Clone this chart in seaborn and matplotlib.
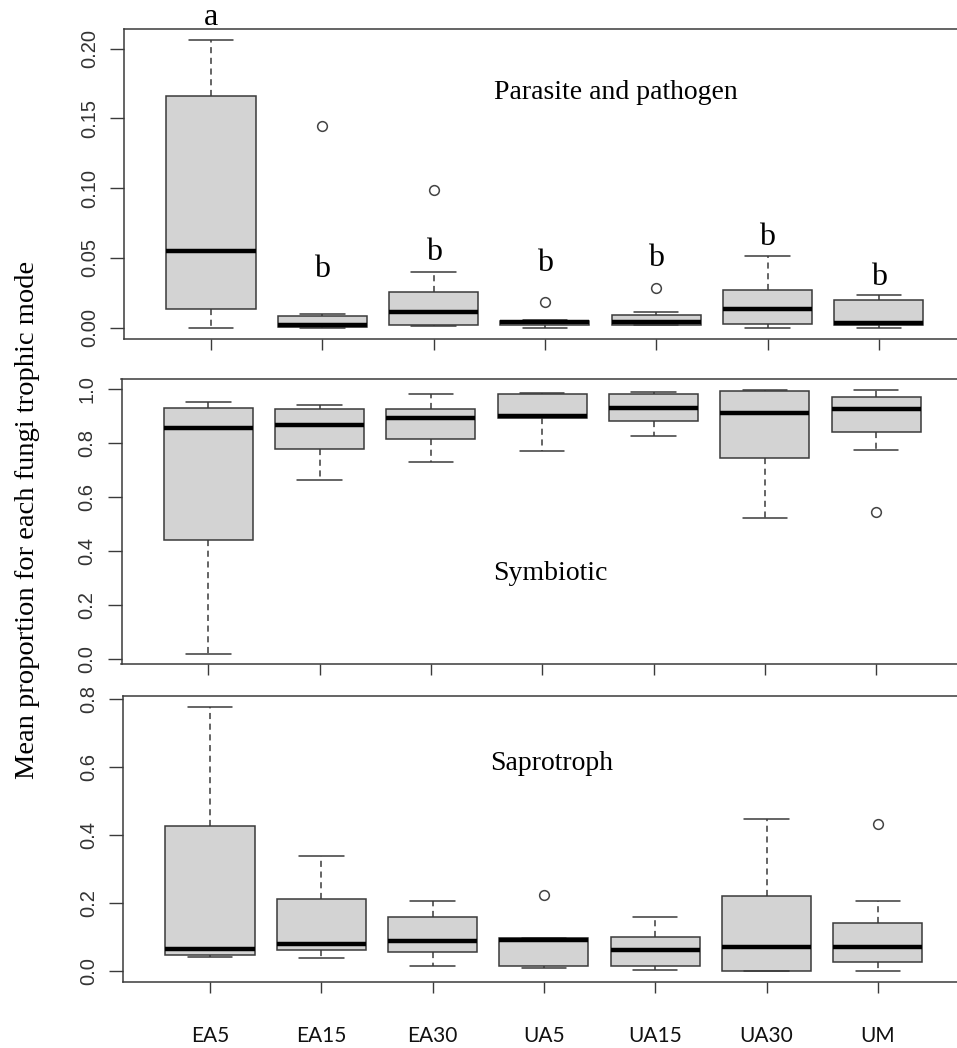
import numpy as np
import pandas as pd
import matplotlib
matplotlib.use("Agg")
import matplotlib.pyplot as plt
import seaborn as sns

# ---------------- data ----------------
categories = ["EA5", "EA15", "EA30", "UA5", "UA15", "UA30", "UM"]

# Parasite and pathogen: whisker low, Q1, median, Q3, whisker high
para_lo  = [0.000, 0.0000, 0.0010, 0.0000, 0.0015, 0.0000, 0.0000]
para_q1  = [0.0132, 0.0005, 0.0020, 0.0020, 0.0020, 0.0024, 0.0015]
para_med = [0.0548, 0.0020, 0.0110, 0.0036, 0.0043, 0.0132, 0.0031]
para_q3  = [0.1658, 0.0084, 0.0258, 0.0048, 0.0091, 0.0268, 0.0199]
para_hi  = [0.2060, 0.0096, 0.0395, 0.0052, 0.0108, 0.0515, 0.0232]
para_out_group = ["EA15", "EA30", "UA5", "UA15"]
para_out_value = [0.1445, 0.0986, 0.0182, 0.0285]
para_letters = ["a", "b", "b", "b", "b", "b", "b"]
para_letter_y = [0.2172, 0.0366, 0.0486, 0.0402, 0.0438, 0.0593, 0.0306]

# Symbiotic
sym_lo  = [0.0185, 0.663, 0.731, 0.771, 0.828, 0.523, 0.774]
sym_q1  = [0.441, 0.779, 0.816, 0.895, 0.884, 0.744, 0.841]
sym_med = [0.857, 0.867, 0.893, 0.900, 0.932, 0.911, 0.927]
sym_q3  = [0.932, 0.927, 0.928, 0.983, 0.981, 0.995, 0.973]
sym_hi  = [0.953, 0.942, 0.983, 0.987, 0.991, 0.997, 0.999]
sym_out_group = ["UM"]
sym_out_value = [0.544]

# Saprotroph
sap_lo  = [0.043, 0.039, 0.0165, 0.0106, 0.0049, 0.000, 0.002]
sap_q1  = [0.048, 0.0626, 0.0567, 0.0156, 0.0166, 0.002, 0.0264]
sap_med = [0.0655, 0.080, 0.090, 0.093, 0.0636, 0.0724, 0.0724]
sap_q3  = [0.428, 0.212, 0.160, 0.0988, 0.100, 0.222, 0.141]
sap_hi  = [0.777, 0.338, 0.2065, 0.0988, 0.160, 0.447, 0.2065]
sap_out_group = ["UA5", "UM"]
sap_out_value = [0.224, 0.433]

panel_titles = ["Parasite and pathogen", "Symbiotic", "Saprotroph"]
ylabel = "Mean proportion for each fungi trophic mode"


def five_point_frame(lo, q1, med, q3, hi):
    rows = []
    for g, a, b, c, d, e in zip(categories, lo, q1, med, q3, hi):
        for v in (a, b, c, d, e):
            rows.append({"group": g, "value": v})
    return pd.DataFrame(rows)


panels = [
    dict(df=five_point_frame(para_lo, para_q1, para_med, para_q3, para_hi),
         out=pd.DataFrame({"group": para_out_group, "value": para_out_value}),
         ylim=(-0.00824, 0.2142), yticks=[0, 0.05, 0.10, 0.15, 0.20], fmt="{:.2f}",
         rect_px=(124.2, 29, 339), title_xy=(3.64, 0.1639)),
    dict(df=five_point_frame(sym_lo, sym_q1, sym_med, sym_q3, sym_hi),
         out=pd.DataFrame({"group": sym_out_group, "value": sym_out_value}),
         ylim=(-0.0185, 1.037), yticks=[0, 0.2, 0.4, 0.6, 0.8, 1.0], fmt="{:.1f}",
         rect_px=(121.5, 379.3, 664.3), title_xy=(3.07, 0.294)),
    dict(df=five_point_frame(sap_lo, sap_q1, sap_med, sap_q3, sap_hi),
         out=pd.DataFrame({"group": sap_out_group, "value": sap_out_value}),
         ylim=(-0.0306, 0.809), yticks=[0, 0.2, 0.4, 0.6, 0.8], fmt="{:.1f}",
         rect_px=(123.2, 696, 981.7), title_xy=(3.07, 0.593)),
]

# ---------------- figure ----------------
sns.set_style("white")
plt.rcParams["font.family"] = ["Liberation Sans", "DejaVu Sans"]

W, H = 957, 1048
fig = plt.figure(figsize=(W / 100, H / 100), dpi=100)
unit_px = 111.3
xlim = (-0.78, 6.78)
width_px = (xlim[1] - xlim[0]) * unit_px

line_col = "#3a3a3a"
serif = ["Liberation Serif", "DejaVu Serif"]

for i, p in enumerate(panels):
    left, top, bottom = p["rect_px"]
    ax = fig.add_axes([left / W, 1 - bottom / H, width_px / W, (bottom - top) / H])
    sns.boxplot(data=p["df"], x="group", y="value", order=categories, ax=ax,
                whis=(0, 100), width=0.8, color="#d3d3d3", saturation=1,
                linecolor=line_col, linewidth=1.1, showfliers=False,
                medianprops={"color": "black", "linewidth": 3.2},
                whiskerprops={"linestyle": (0, (4, 3))})
    sns.stripplot(data=p["out"], x="group", y="value", order=categories, ax=ax,
                  jitter=False, size=7, color="white", edgecolor="#444444",
                  linewidth=1.1, zorder=5)
    ax.set_xlim(*xlim)
    ax.set_ylim(*p["ylim"])
    ax.set_xlabel("")
    ax.set_ylabel("")
    ax.set_yticks(p["yticks"])
    ax.set_yticklabels([p["fmt"].format(v) for v in p["yticks"]],
                       rotation=90, va="center", fontsize=14.5, color="#333333")
    ax.set_xticks(range(len(categories)))
    if i == 2:
        ax.set_xticklabels(categories, fontsize=15, family=["Lato", "DejaVu Sans"],
                           color="#111111")
    else:
        ax.set_xticklabels([])
    ax.tick_params(axis="y", length=10, width=1.0, color=line_col, pad=8, left=True)
    ax.tick_params(axis="x", length=8, width=1.0, color=line_col,
                   pad=24 if i == 2 else 4, bottom=True)
    for side in ["left", "top", "bottom"]:
        ax.spines[side].set_visible(True)
        ax.spines[side].set_color(line_col)
        ax.spines[side].set_linewidth(1.1)
    ax.spines["right"].set_visible(False)
    tx, ty = p["title_xy"]
    ax.text(tx, ty, panel_titles[i], ha="center", va="baseline",
            fontsize=20, family=serif, color="black")
    if i == 0:
        for k, (lab, ly) in enumerate(zip(para_letters, para_letter_y)):
            ax.text(k, ly, lab, ha="center", va="baseline", fontsize=23,
                    family=serif, color="black", clip_on=False)

fig.text(28 / W, 1 - 520 / H, ylabel, rotation=90, ha="center", va="center",
         fontsize=20.5, family=serif, color="black")

fig.savefig("out.png", dpi=100)
